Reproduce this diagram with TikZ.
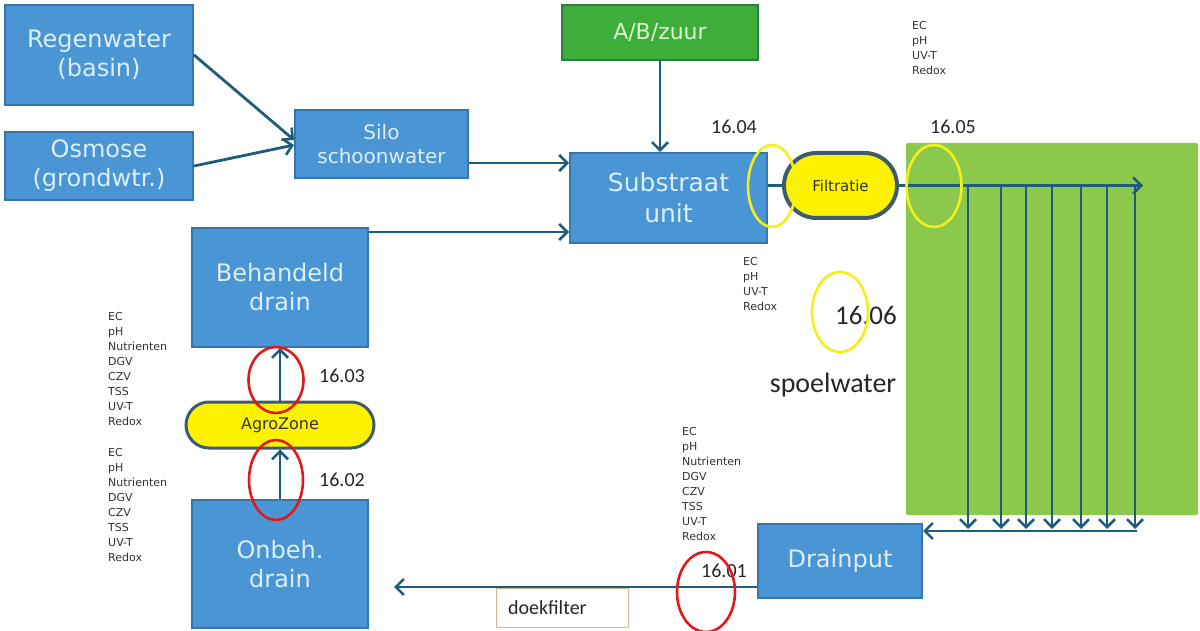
\documentclass[tikz,border=0pt]{standalone}
\usepackage{fontspec}
\setmainfont{DejaVu Sans}
\newfontfamily\calfont{Carlito}
\usetikzlibrary{arrows.meta,shapes.geometric,shapes.misc}
\definecolor{bfill}{HTML}{4A96D4}
\definecolor{bdraw}{HTML}{3576AE}
\definecolor{btext}{HTML}{DDEEFB}
\definecolor{gfill}{HTML}{3DAE3A}
\definecolor{gdraw}{HTML}{2F7D45}
\definecolor{gtext}{HTML}{DDF2D5}
\definecolor{fieldc}{HTML}{8CC84C}
\definecolor{arrc}{HTML}{1F5C7C}
\definecolor{pillb}{HTML}{3E5C6E}
\definecolor{ycirc}{HTML}{F2F018}
\definecolor{rcirc}{HTML}{E01A1A}
\definecolor{doekb}{HTML}{D9B48F}
\definecolor{meastext}{HTML}{333333}
\begin{document}
\begin{tikzpicture}[x=1pt,y=-1pt,
  blockbox/.style={draw=bdraw, line width=2pt, fill=bfill, text=btext, align=center, inner sep=0pt, font=\fontsize{24}{29}\selectfont},
  greenbox/.style={draw=gdraw, line width=2pt, fill=gfill, text=gtext, align=center, inner sep=0pt, font=\fontsize{22}{26}\selectfont},
  pillbox/.style={rounded rectangle, draw=pillb, fill=yellow, text=black!80, inner sep=0pt},
  arr/.style={draw=arrc, line width=2.8pt, -{Straight Barb[length=8pt,width=16pt,line width=2.6pt]}},
  plainline/.style={draw=arrc, line width=2.8pt},
  yellc/.style={ellipse, draw=ycirc, line width=2.6pt, inner sep=0pt},
  redc/.style={ellipse, draw=rcirc, line width=2.6pt, inner sep=0pt},
  meas/.style={anchor=north west, align=left, inner sep=0pt, text=meastext, font=\fontsize{11}{15}\selectfont},
  numlabel/.style={inner sep=0pt, text=black!85, font=\calfont\fontsize{20}{24}\selectfont},
]
\useasboundingbox (0,0) rectangle (1200,631);

% field
\fill[fieldc, rounded corners=2pt] (906,143) rectangle (1198,515);

% blocks
\node[blockbox, minimum width=188pt, minimum height=100pt] (reg) at (99,55) {Regenwater\\(basin)};
\node[blockbox, minimum width=188pt, minimum height=68pt] (osm) at (99,166) {Osmose\\(grondwtr.)};
\node[blockbox, minimum width=173pt, minimum height=68pt, font=\fontsize{20}{24}\selectfont] (silo) at (381.5,144) {Silo\\schoonwater};
\node[greenbox, minimum width=196pt, minimum height=55pt] (abz) at (660,32.5) {A/B/zuur};
\node[blockbox, minimum width=197pt, minimum height=90pt, font=\fontsize{25}{31}\selectfont] (sub) at (668.5,198) {Substraat\\unit};
\node[blockbox, minimum width=176pt, minimum height=119pt] (beh) at (280,287.5) {Behandeld\\drain};
\node[blockbox, minimum width=176pt, minimum height=128pt] (onb) at (280,564) {Onbeh.\\drain};
\node[blockbox, minimum width=164pt, minimum height=74pt] (dp) at (840,561) {Drainput};
\node[pillbox, line width=3pt, minimum width=188pt, minimum height=46pt, font=\fontsize{16}{19}\selectfont] (agro) at (280,425) {AgroZone};
\node[pillbox, line width=4pt, minimum width=113pt, minimum height=65pt, font=\fontsize{15}{18}\selectfont] (filt) at (840.5,185.5) {Filtratie};
\node[draw=doekb, line width=0.8pt, fill=white, minimum width=132pt, minimum height=39pt, text width=108pt, align=left, inner xsep=12pt, text=black!85, font=\calfont\fontsize{20}{24}\selectfont] (doek) at (562,607.5) {doekfilter};

% connectors
\draw[arr] (reg.east) -- ([yshift=4pt]silo.west);
\draw[arr] (osm.east) -- ([yshift=-1pt]silo.west);
\draw[arr] ([yshift=-19pt]silo.east) -- ([yshift=-19pt]silo.east -| sub.west);
\draw[arr] ([yshift=-5pt]beh.north east) -- ([yshift=-5pt]beh.north east -| sub.west);
\draw[arr] (abz.south) -- (abz.south |- sub.north);
\draw[plainline] (sub.east |- filt.west) -- (filt.west);
\coordinate (topend) at (1143,185.5);
\draw[arr] (filt.east) -- (topend);
\foreach \i/\x in {1/968,2/1001,3/1026,4/1052,5/1081,6/1107,7/1135}{
  \coordinate (t\i) at (\x,185.5);
  \coordinate (b\i) at (\x,529);
  \draw[arr] (t\i) -- (b\i);
}
\coordinate (bR) at (1137,531);
\draw[arr] (bR) -- (bR -| dp.east);
\draw[arr, shorten >=25pt] ([yshift=-26pt]dp.west) -- ([yshift=-26pt]dp.west -| onb.east);
\draw[arr] (onb.north) -- (agro.south);
\draw[arr] (agro.north) -- (beh.south);

% measurement lists
\node[meas] (m1) at (912,21) {EC\\pH\\UV-T\\Redox};
\node[meas] (m2) at (743,257) {EC\\pH\\UV-T\\Redox};
\node[meas] (m3) at (108,312) {EC\\pH\\Nutrienten\\DGV\\CZV\\TSS\\UV-T\\Redox};
\node[meas] (m4) at (108,448) {EC\\pH\\Nutrienten\\DGV\\CZV\\TSS\\UV-T\\Redox};
\node[meas] (m5) at (682,427) {EC\\pH\\Nutrienten\\DGV\\CZV\\TSS\\UV-T\\Redox};

% numbers
\node[numlabel] (n4) at (734,127) {16.04};
\node[numlabel] (n5) at (953,127) {16.05};
\node[numlabel] (n3) at (342,376) {16.03};
\node[numlabel] (n2) at (342,480) {16.02};
\node[numlabel] (n1) at (724,571) {16.01};
\node[numlabel, font=\calfont\fontsize{27}{32}\selectfont] (n6) at (866,315) {16.06};
\node[numlabel, font=\calfont\fontsize{28}{32}\selectfont] (sp) at (833,385) {spoelwater};

% circles
\node[yellc, minimum width=48pt, minimum height=82pt] (c4) at (772,186) {};
\node[yellc, minimum width=55pt, minimum height=82pt] (c5) at (934,186) {};
\node[yellc, minimum width=56pt, minimum height=80pt] (c6) at (840,312) {};
\node[redc, minimum width=55pt, minimum height=66pt] (c3) at (276,380) {};
\node[redc, minimum width=54pt, minimum height=80pt] (c2) at (276,480) {};
\node[redc, minimum width=58pt, minimum height=80pt] (c1) at (706,592) {};
\end{tikzpicture}
\end{document}
